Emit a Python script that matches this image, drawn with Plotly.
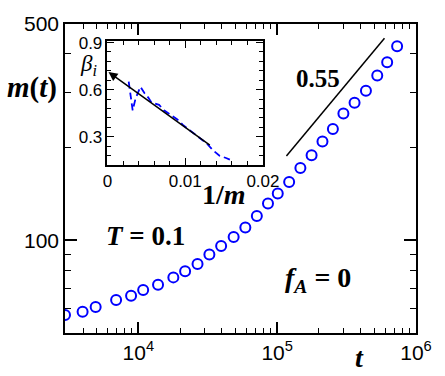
import plotly.graph_objects as go

# main data: m(t) vs t
t_vals = [2965, 3970, 4930, 6920, 8870, 10840, 13870, 17880, 21730, 26700, 32500,
          39500, 48600, 59000, 71400, 85900, 101000, 122000, 147000, 177000, 212000,
          252000, 300000, 361000, 436000, 526000, 620000, 731000]
m_vals = [57.3, 58.7, 60.8, 64.1, 66.1, 69.0, 71.8, 75.8, 79.3, 83.7, 89.9,
          95.8, 102.4, 109.9, 119.7, 131.3, 141.6, 154.3, 171.2, 188.1, 208.3,
          229.0, 256.6, 278.2, 304.3, 340.8, 376.3, 424.0]

# slope guide line (0.55)
guide_t = [116600, 593000]
guide_m = [187.2, 449.8]

# inset: beta_i vs 1/m
inv_m = [0.00273, 0.00324, 0.00361, 0.00424, 0.00475, 0.00525, 0.00567, 0.00609,
         0.00664, 0.00727, 0.00811, 0.00895, 0.00979, 0.01084, 0.01189, 0.01273,
         0.01357, 0.01441, 0.01525, 0.01574]
beta = [0.651, 0.468, 0.543, 0.618, 0.578, 0.549, 0.517, 0.509,
        0.503, 0.468, 0.442, 0.411, 0.371, 0.330, 0.294, 0.259,
        0.213, 0.178, 0.164, 0.154]
fit_x = [0.01336, 0.00013]
fit_y = [0.239, 0.712]

serif = "Liberation Serif"
sans = "Liberation Sans"

fig = go.Figure()
fig.add_trace(go.Scatter(x=t_vals, y=m_vals, mode="markers",
                         marker=dict(symbol="circle-open", size=10, color="#0000ff",
                                     line=dict(width=2, color="#0000ff")),
                         showlegend=False))
fig.add_trace(go.Scatter(x=guide_t, y=guide_m, mode="lines",
                         line=dict(color="black", width=1.5), showlegend=False))
fig.add_trace(go.Scatter(x=inv_m, y=beta, mode="lines", xaxis="x2", yaxis="y2",
                         line=dict(color="#0000ff", width=1.8, dash="7px,4px"),
                         showlegend=False))

x_minor = [k * 10 ** e for e in (3, 4, 5) for k in range(2, 10)]
y_minor = [60, 70, 80, 90, 200, 300, 400]

tick_style = dict(ticks="inside", tickwidth=1.5, tickcolor="black")
minor_style = dict(ticks="inside", tickwidth=1.2, tickcolor="black", showgrid=False)

xmain = dict(type="log", range=[3.472, 6.0], showgrid=False, zeroline=False,
             showline=True, linecolor="black", linewidth=1.5, ticklen=11,
             tickvals=[1e4, 1e5, 1e6],
             minor=dict(tickvals=x_minor, ticklen=5, **minor_style), **tick_style)
ymain = dict(type="log", range=[1.6998, 2.699], showgrid=False, zeroline=False,
             showline=True, linecolor="black", linewidth=1.5, ticklen=12,
             tickvals=[100, 500],
             minor=dict(tickvals=y_minor, ticklen=6, **minor_style), **tick_style)

fig.update_layout(
    width=445, height=376,
    margin=dict(l=65, r=23, t=13, b=39),
    paper_bgcolor="white", plot_bgcolor="white",
    xaxis=dict(xmain, ticktext=["10<sup>4</sup>", "10<sup>5</sup>", "10<sup>6</sup>"],
               tickfont=dict(family=sans, size=21, color="black")),
    yaxis=dict(ymain, ticktext=["100", "500"],
               tickfont=dict(family=sans, size=21, color="black")),
    # top and right copies carry the mirrored ticks
    xaxis3=dict(xmain, overlaying="x", side="top", anchor="y", showticklabels=False),
    yaxis3=dict(ymain, overlaying="y", side="right", anchor="x", showticklabels=False),
    xaxis2=dict(domain=[0.121, 0.564], anchor="y2", range=[0, 0.02],
                showgrid=False, zeroline=False, showline=True, linecolor="black",
                linewidth=1.5, mirror="allticks", ticks="inside", ticklen=7,
                tickwidth=1.2, tickcolor="black",
                tickvals=[0, 0.01, 0.02], ticktext=["0", "0.01", "0.02"],
                tickfont=dict(family=sans, size=17, color="black"),
                minor=dict(dtick=0.002, tick0=0, ticklen=4, **minor_style)),
    yaxis2=dict(domain=[0.544, 0.945], anchor="x2", range=[0.12, 0.91],
                showgrid=False, zeroline=False, showline=True, linecolor="black",
                linewidth=1.5, mirror="allticks", ticks="inside", ticklen=7,
                tickwidth=1.2, tickcolor="black",
                tickvals=[0.3, 0.6, 0.9], ticktext=["0.3", "0.6", "0.9"],
                tickfont=dict(family=sans, size=17, color="black"),
                minor=dict(dtick=0.06, tick0=0, ticklen=4, **minor_style)),
)

# invisible traces so the top/right axis copies get drawn
fig.add_trace(go.Scatter(x=[t_vals[0]], y=[m_vals[0]], xaxis="x3", yaxis="y",
                         mode="markers", marker=dict(opacity=0), showlegend=False,
                         hoverinfo="skip"))
fig.add_trace(go.Scatter(x=[t_vals[0]], y=[m_vals[0]], xaxis="x", yaxis="y3",
                         mode="markers", marker=dict(opacity=0), showlegend=False,
                         hoverinfo="skip"))

# labels placed by pixel position in the figure, converted to plot-area paper coords
def plabel(text, px, py, size):
    fig.add_annotation(text=text, x=(px - 65) / 357, y=(337 - py) / 324,
                       xref="paper", yref="paper", showarrow=False,
                       xanchor="center", yanchor="middle",
                       font=dict(family=serif, size=size, color="black"))

plabel("<b><i>m</i>(<i>t</i>)</b>", 31, 80, 29)
plabel("<b><i>t</i></b>", 365, 363, 28)
plabel("<b>0.55</b>", 322, 70, 25)
plabel("<b><i>T</i> = 0.1</b>", 147, 235, 27)
plabel("<b><i>f</i><sub><i>A</i></sub> = 0</b>", 322, 281, 28)
plabel("<i>β<sub>i</sub></i>", 89, 56, 23)
plabel("<b>1/<i>m</i></b>", 227, 192, 28)

fig.add_annotation(x=fit_x[1], y=fit_y[1], ax=fit_x[0], ay=fit_y[0],
                   xref="x2", yref="y2", axref="x2", ayref="y2", text="",
                   showarrow=True, arrowhead=2, arrowsize=1.2, arrowwidth=1.5,
                   arrowcolor="black")

fig.write_html("out.html", config={"displayModeBar": False},
               post_script="document.body.style.margin='0';")
